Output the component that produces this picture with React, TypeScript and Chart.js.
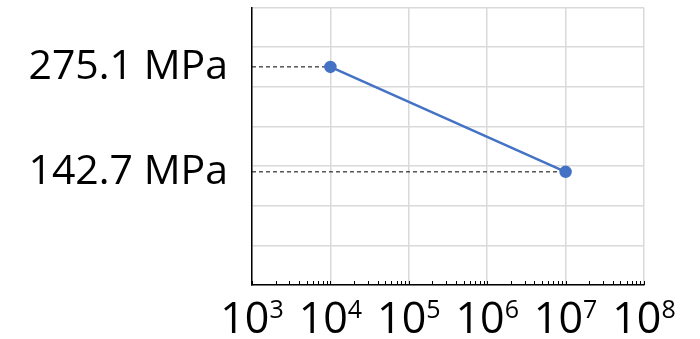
import React, { useEffect, useRef } from "react";
import { Chart, registerables } from "chart.js";

Chart.register(...registerables);

// ---- data ----
const cycles = [1e4, 1e7];
const stressMPa = [275.1, 142.7];
const xExponents = [3, 4, 5, 6, 7, 8];
const minorMultipliers = [2, 3, 4, 5, 6, 7, 8, 9];
const yGridValues = [0, 50, 100, 150, 200, 250, 300, 350];
const unitLabel = "MPa";

const FONT = '"Open Sans", "Noto Sans", sans-serif';
const BLUE = "#4472C4";
const GRID = "#d9d9d9";

const isPow10 = (v: number) => Math.abs(Math.log10(v) - Math.round(Math.log10(v))) < 1e-9;

const xTickPlugin = {
  id: "xTickPlugin",
  afterDraw(chart: any) {
    const xs = chart.scales.x;
    const ctx = chart.ctx;
    const bottom = chart.chartArea.bottom;
    ctx.save();
    // minor tick marks pointing inward
    ctx.strokeStyle = "#000";
    ctx.lineWidth = 1;
    ctx.beginPath();
    for (const t of xs.ticks) {
      const px = Math.round(xs.getPixelForValue(t.value)) + 0.5;
      ctx.moveTo(px, bottom);
      ctx.lineTo(px, bottom - 4);
    }
    ctx.stroke();
    // labels 10^n
    ctx.fillStyle = "#000";
    ctx.textBaseline = "alphabetic";
    ctx.textAlign = "left";
    const baseFont = `43px ${FONT}`;
    const supFont = `25px ${FONT}`;
    for (const e of xExponents) {
      const px = xs.getPixelForValue(Math.pow(10, e));
      ctx.font = baseFont;
      const wb = ctx.measureText("10").width;
      ctx.font = supFont;
      const ws = ctx.measureText(String(e)).width;
      const start = px - (wb + ws) / 2;
      ctx.font = baseFont;
      ctx.fillText("10", start, bottom + 48);
      ctx.font = supFont;
      ctx.fillText(String(e), start + wb, bottom + 33);
    }
    ctx.restore();
  },
};

export default function App() {
  const ref = useRef<HTMLCanvasElement>(null);
  useEffect(() => {
    document.body.style.margin = "0";
    const xMin = Math.pow(10, xExponents[0]);
    const xMax = Math.pow(10, xExponents[xExponents.length - 1]);
    const mainData = cycles.map((x, i) => ({ x, y: stressMPa[i] }));
    const guides = cycles.map((x, i) => ({
      data: [
        { x: xMin, y: stressMPa[i] },
        { x, y: stressMPa[i] },
      ],
      borderColor: "#000",
      borderWidth: 1,
      borderDash: [4, 3],
      pointRadius: 0,
      order: 1,
    }));
    const chart = new Chart(ref.current as HTMLCanvasElement, {
      type: "line",
      data: {
        datasets: [
          {
            data: mainData,
            borderColor: BLUE,
            backgroundColor: BLUE,
            borderWidth: 2.5,
            pointRadius: 5,
            pointBackgroundColor: BLUE,
            pointBorderColor: BLUE,
            order: 0,
          },
          ...guides,
        ] as any,
      },
      options: {
        animation: false,
        responsive: false,
        maintainAspectRatio: false,
        layout: { padding: { top: 7, right: 56, left: 0, bottom: 0 } },
        plugins: { legend: { display: false }, tooltip: { enabled: false } },
        scales: {
          x: {
            type: "logarithmic",
            min: xMin,
            max: xMax,
            afterBuildTicks: (scale: any) => {
              const ticks: any[] = [];
              for (const e of xExponents) {
                const b = Math.pow(10, e);
                ticks.push({ value: b, major: true });
                if (e < xExponents[xExponents.length - 1]) {
                  for (const m of minorMultipliers) ticks.push({ value: m * b });
                }
              }
              scale.ticks = ticks;
            },
            afterFit: (scale: any) => {
              scale.height = 54;
              scale.paddingLeft = 0;
              scale.paddingRight = 0;
            },
            grid: {
              color: (c: any) => (c.tick && isPow10(c.tick.value) ? GRID : "rgba(0,0,0,0)"),
              lineWidth: 1.5,
              drawTicks: false,
            },
            border: { color: "#000", width: 1.5 },
            ticks: { display: false },
          },
          y: {
            type: "linear",
            min: yGridValues[0],
            max: yGridValues[yGridValues.length - 1],
            afterBuildTicks: (scale: any) => {
              const vals = [...yGridValues, ...stressMPa].sort((a, b) => a - b);
              scale.ticks = vals.map((v) => ({ value: v }));
            },
            afterFit: (scale: any) => {
              scale.width = 252;
              scale.paddingTop = 0;
              scale.paddingBottom = 0;
            },
            grid: {
              color: (c: any) =>
                c.tick && stressMPa.includes(c.tick.value) ? "rgba(0,0,0,0)" : GRID,
              lineWidth: 1.5,
              drawTicks: false,
            },
            border: { color: "#000", width: 1.5 },
            ticks: {
              autoSkip: false,
              padding: 24,
              color: "#000",
              font: { family: FONT, size: 41 },
              callback: (v: any) => (stressMPa.includes(v) ? `${v} ${unitLabel}` : ""),
            },
          },
        },
      },
      plugins: [xTickPlugin],
    });
    return () => chart.destroy();
  }, []);
  return (
    <div style={{ width: 700, height: 339 }}>
      <canvas ref={ref} width={700} height={339} style={{ display: "block", width: 700, height: 339 }} />
    </div>
  );
}
